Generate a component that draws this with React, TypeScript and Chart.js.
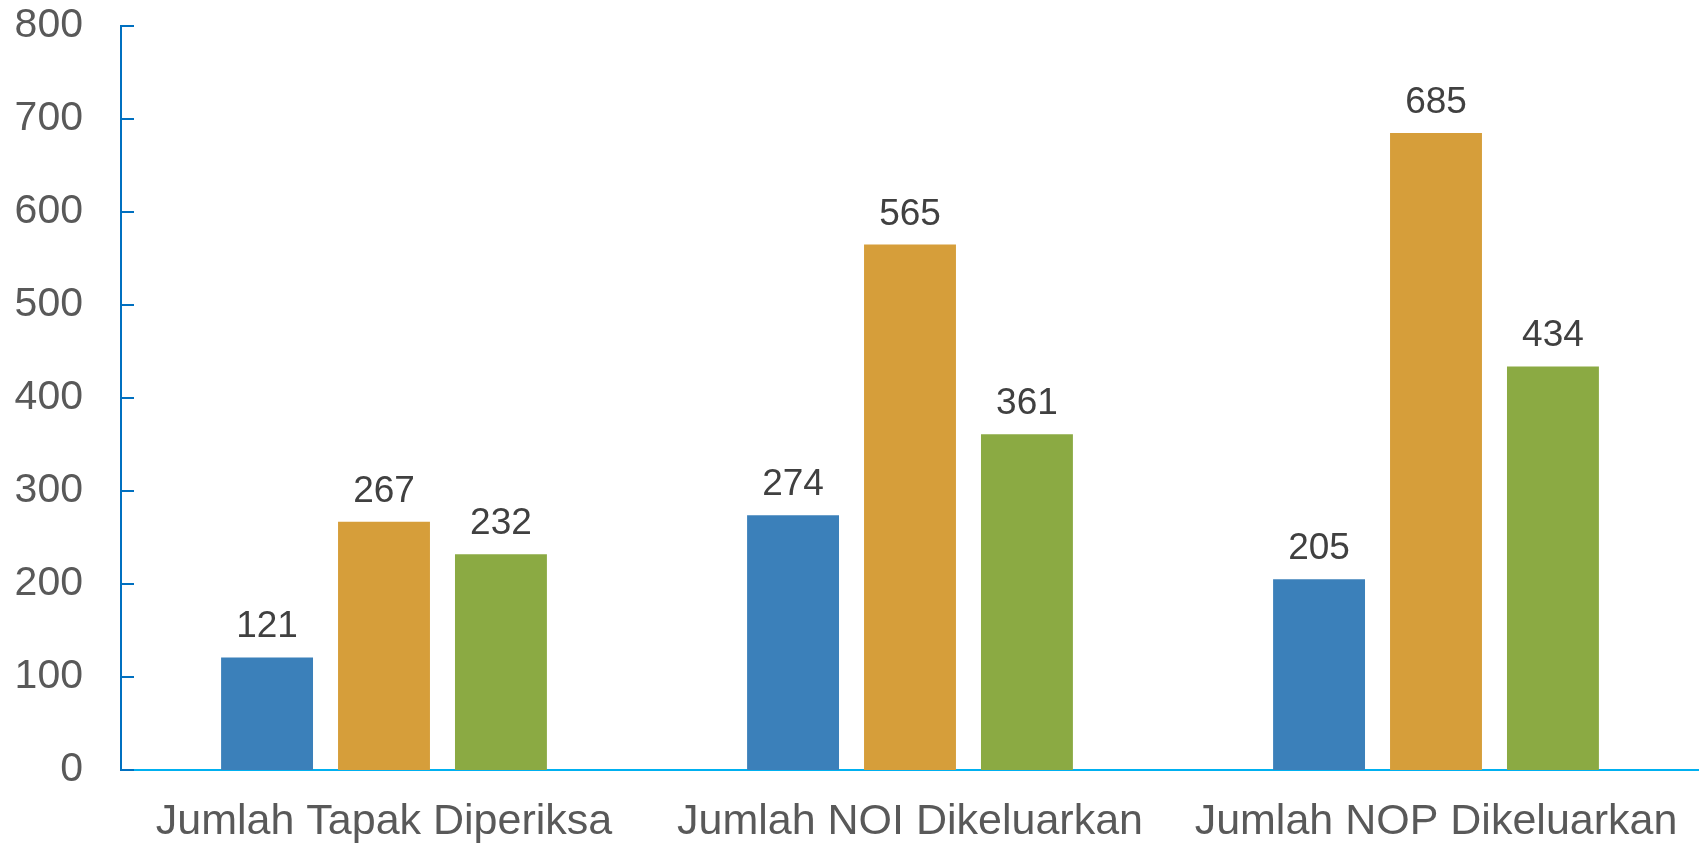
import React, { useEffect, useRef } from "react";
import { Chart, registerables } from "chart.js";

Chart.register(...registerables);

const categories = ["Jumlah Tapak Diperiksa", "Jumlah NOI Dikeluarkan", "Jumlah NOP Dikeluarkan"];
const seriesA = [121, 274, 205];
const seriesB = [267, 565, 685];
const seriesC = [232, 361, 434];
const seriesColors = ["#3B80BA", "#D69E3A", "#8BAA43"];
const yTicks = [0, 100, 200, 300, 400, 500, 600, 700, 800];

const FONT = "Arial, 'Liberation Sans', Helvetica, sans-serif";

const valueLabels = {
  id: "valueLabels",
  afterDatasetsDraw(chart: any) {
    const ctx = chart.ctx;
    ctx.save();
    ctx.font = `37px ${FONT}`;
    ctx.fillStyle = "#404040";
    ctx.textAlign = "center";
    ctx.textBaseline = "alphabetic";
    chart.data.datasets.forEach((ds: any, i: number) => {
      const meta = chart.getDatasetMeta(i);
      meta.data.forEach((bar: any, j: number) => {
        ctx.fillText(String(ds.data[j]), bar.x, bar.y - 20);
      });
    });
    ctx.restore();
  },
};

const innerTicks = {
  id: "innerTicks",
  afterDraw(chart: any) {
    const ctx = chart.ctx;
    const y = chart.scales.y;
    const left = chart.chartArea.left;
    ctx.save();
    ctx.strokeStyle = "#0070C0";
    ctx.lineWidth = 2;
    yTicks.forEach((v) => {
      const py = Math.round(y.getPixelForValue(v));
      ctx.beginPath();
      ctx.moveTo(left, py);
      ctx.lineTo(left + 13, py);
      ctx.stroke();
    });
    ctx.restore();
  },
};

export default function App() {
  const ref = useRef<HTMLCanvasElement>(null);
  useEffect(() => {
    if (!ref.current) return;
    const chart = new Chart(ref.current, {
      type: "bar",
      data: {
        labels: categories,
        datasets: [
          { label: "A", data: seriesA, backgroundColor: seriesColors[0] },
          { label: "B", data: seriesB, backgroundColor: seriesColors[1] },
          { label: "C", data: seriesC, backgroundColor: seriesColors[2] },
        ],
      },
      options: {
        animation: false,
        responsive: false,
        maintainAspectRatio: false,
        layout: { padding: { top: 26, right: 0, left: 0, bottom: 0 } },
        plugins: { legend: { display: false }, tooltip: { enabled: false } },
        datasets: { bar: { categoryPercentage: 0.667, barPercentage: 0.786 } },
        scales: {
          x: {
            grid: { display: false, drawTicks: false },
            border: { display: true, color: "#00B0F0", width: 2 },
            ticks: { color: "#595959", font: { family: FONT, size: 43 }, padding: 26, maxRotation: 0 },
            afterFit(scale: any) {
              scale.height = 75;
              scale.paddingLeft = 0;
              scale.paddingRight = 0;
            },
          },
          y: {
            min: 0,
            max: 800,
            grid: { display: false, drawTicks: false },
            border: { display: true, color: "#0070C0", width: 2 },
            ticks: {
              stepSize: 100,
              color: "#595959",
              font: { family: FONT, size: 41 },
              padding: 38,
            },
            afterFit(scale: any) {
              scale.width = 121;
              scale.paddingTop = 0;
              scale.paddingBottom = 0;
            },
          },
        },
      },
      plugins: [valueLabels, innerTicks],
    } as any);
    return () => chart.destroy();
  }, []);
  return (
    <div style={{ position: "fixed", left: 0, top: 0, width: 1699, height: 845, background: "#fff" }}>
      <canvas ref={ref} width={1699} height={845} style={{ width: 1699, height: 845 }} />
    </div>
  );
}
